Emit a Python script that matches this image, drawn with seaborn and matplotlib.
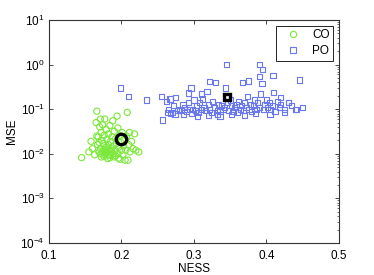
import numpy as np
import pandas as pd
import matplotlib
matplotlib.use('Agg')
import matplotlib.pyplot as plt
import seaborn as sns
from matplotlib.lines import Line2D

# CO points (NESS, MSE)
co_ness = [0.145, 0.155, 0.158, 0.160, 0.163, 0.165, 0.166, 0.167, 0.168, 0.169,
           0.170, 0.171, 0.172, 0.172, 0.173, 0.174, 0.175, 0.175, 0.176, 0.177,
           0.177, 0.178, 0.179, 0.180, 0.180, 0.181, 0.182, 0.182, 0.183, 0.184,
           0.185, 0.185, 0.186, 0.187, 0.188, 0.188, 0.189, 0.190, 0.190, 0.191,
           0.192, 0.193, 0.194, 0.195, 0.195, 0.196, 0.197, 0.198, 0.199, 0.200,
           0.201, 0.202, 0.203, 0.204, 0.205, 0.206, 0.207, 0.208, 0.209, 0.210,
           0.211, 0.212, 0.214, 0.216, 0.218, 0.220, 0.224, 0.172, 0.176, 0.179,
           0.183, 0.186, 0.178, 0.174, 0.181, 0.169, 0.166, 0.171, 0.184, 0.192,
           0.196]
co_mse = [0.0082, 0.011, 0.019, 0.013, 0.0095, 0.050, 0.090, 0.016, 0.024, 0.011,
          0.040, 0.013, 0.030, 0.0085, 0.020, 0.045, 0.012, 0.017, 0.026, 0.0095,
          0.060, 0.014, 0.035, 0.011, 0.021, 0.0078, 0.016, 0.028, 0.012, 0.043,
          0.0092, 0.019, 0.013, 0.024, 0.010, 0.055, 0.015, 0.032, 0.0085, 0.012,
          0.022, 0.017, 0.070, 0.010, 0.038, 0.014, 0.026, 0.0075, 0.018, 0.012,
          0.030, 0.0095, 0.015, 0.020, 0.0072, 0.012, 0.025, 0.085, 0.0072, 0.016,
          0.030, 0.011, 0.019, 0.013, 0.028, 0.012, 0.011, 0.0100, 0.0088, 0.0105,
          0.0095, 0.0115, 0.0125, 0.0110, 0.0135, 0.018, 0.025, 0.060, 0.0082, 0.0090,
          0.0080]

# PO points (NESS, MSE)
po_ness = [0.199, 0.210, 0.235, 0.257, 0.255, 0.262, 0.265, 0.268, 0.270, 0.272,
           0.275, 0.278, 0.280, 0.283, 0.285, 0.287, 0.290, 0.292, 0.294, 0.296,
           0.298, 0.300, 0.302, 0.304, 0.306, 0.308, 0.310, 0.312, 0.314, 0.316,
           0.318, 0.320, 0.322, 0.324, 0.326, 0.328, 0.330, 0.332, 0.334, 0.336,
           0.338, 0.340, 0.342, 0.344, 0.345, 0.346, 0.348, 0.350, 0.352, 0.354,
           0.356, 0.358, 0.360, 0.362, 0.364, 0.366, 0.368, 0.370, 0.372, 0.374,
           0.376, 0.378, 0.380, 0.382, 0.384, 0.386, 0.388, 0.390, 0.391, 0.395,
           0.392, 0.394, 0.396, 0.398, 0.400, 0.402, 0.404, 0.406, 0.408, 0.410,
           0.412, 0.415, 0.418, 0.420, 0.425, 0.430, 0.435, 0.440, 0.446, 0.450,
           0.263, 0.274, 0.286, 0.305, 0.320, 0.336, 0.352, 0.370, 0.385, 0.405,
           0.425, 0.268, 0.297, 0.332, 0.367, 0.375, 0.409, 0.391, 0.321, 0.293,
           0.311, 0.267, 0.419, 0.430, 0.442]
po_mse = [0.30, 0.19, 0.16, 0.057, 0.19, 0.15, 0.10, 0.17, 0.085, 0.12,
          0.18, 0.093, 0.10, 0.095, 0.13, 0.11, 0.087, 0.14, 0.098, 0.30,
          0.10, 0.16, 0.092, 0.12, 0.085, 0.14, 0.10, 0.17, 0.11, 0.093,
          0.25, 0.13, 0.10, 0.085, 0.15, 0.11, 0.40, 0.095, 0.13, 0.088,
          0.12, 0.10, 0.11, 0.30, 1.00, 0.14, 0.095, 0.16, 0.12, 0.09,
          0.11, 0.13, 0.085, 0.15, 0.10, 0.12, 0.092, 0.14, 0.11, 0.19,
          0.10, 0.13, 0.09, 0.12, 0.16, 0.10, 0.14, 0.11, 1.00, 0.78,
          0.22, 0.38, 0.10, 0.13, 0.16, 0.11, 0.14, 0.10, 0.12, 0.24,
          0.09, 0.15, 0.11, 0.13, 0.10, 0.14, 0.12, 0.10, 0.45, 0.11,
          0.085, 0.078, 0.075, 0.07, 0.072, 0.068, 0.075, 0.072, 0.08, 0.075,
          0.085, 0.08, 0.080, 0.075, 0.39, 0.43, 0.58, 0.55, 0.41, 0.23,
          0.22, 0.17, 0.18, 0.14, 0.10]

co_mean = (0.20, 0.021)
po_mean = (0.345, 0.19)

green = '#7be83a'
blue = '#6a78f0'

plt.rcParams['font.family'] = ['Liberation Sans', 'DejaVu Sans']
fig = plt.figure(figsize=(3.74, 2.75), dpi=100)
ax = fig.add_axes([0.131, 0.1164, 0.775, 0.8109])

sns.scatterplot(x=co_ness, y=co_mse, marker='o', s=20, facecolors='none',
                edgecolor=green, linewidth=0.8, ax=ax)
sns.scatterplot(x=po_ness, y=po_mse, marker='s', s=14, facecolors='none',
                edgecolor=blue, linewidth=0.8, ax=ax)

# group means
ax.plot([co_mean[0]], [co_mean[1]], marker='o', ms=7.5, mfc='none', mec='black', mew=2.4, ls='none')
ax.plot([po_mean[0]], [po_mean[1]], marker='s', ms=4.8, mfc='white', mec='black', mew=2.4, ls='none')

ax.set_yscale('log')
ax.set_xlim(0.1, 0.5)
ax.set_ylim(1e-4, 10)
ax.set_xticks([0.1, 0.2, 0.3, 0.4, 0.5])
ax.set_xticklabels(['0.1', '0.2', '0.3', '0.4', '0.5'])
ax.set_yticks([1e-4, 1e-3, 1e-2, 1e-1, 1, 10])
ax.set_xlabel('NESS', fontsize=8.5, labelpad=1)
ax.set_ylabel('MSE', fontsize=8.5, labelpad=2)
ax.tick_params(which='major', direction='in', top=True, right=True, length=3,
               width=0.5, labelsize=8.5, pad=3)
ax.tick_params(axis='x', which='major', pad=5)
ax.tick_params(which='minor', direction='in', left=False, right=True, length=1.5, width=0.4)
for sp in ax.spines.values():
    sp.set_linewidth(0.8)
    sp.set_color('#333333')

handles = [Line2D([], [], marker='o', ls='none', mfc='none', mec=green, ms=4.5, mew=0.8),
           Line2D([], [], marker='s', ls='none', mfc='none', mec=blue, ms=4, mew=0.8)]
leg = ax.legend(handles, ['CO', 'PO'], loc='upper right', fontsize=8.5, fancybox=False,
                framealpha=1, edgecolor='black', handlelength=2.2, borderpad=0.3,
                labelspacing=0.3, handletextpad=0.5, borderaxespad=0.5)
leg.get_frame().set_linewidth(0.6)

fig.savefig('out.png', dpi=100)
